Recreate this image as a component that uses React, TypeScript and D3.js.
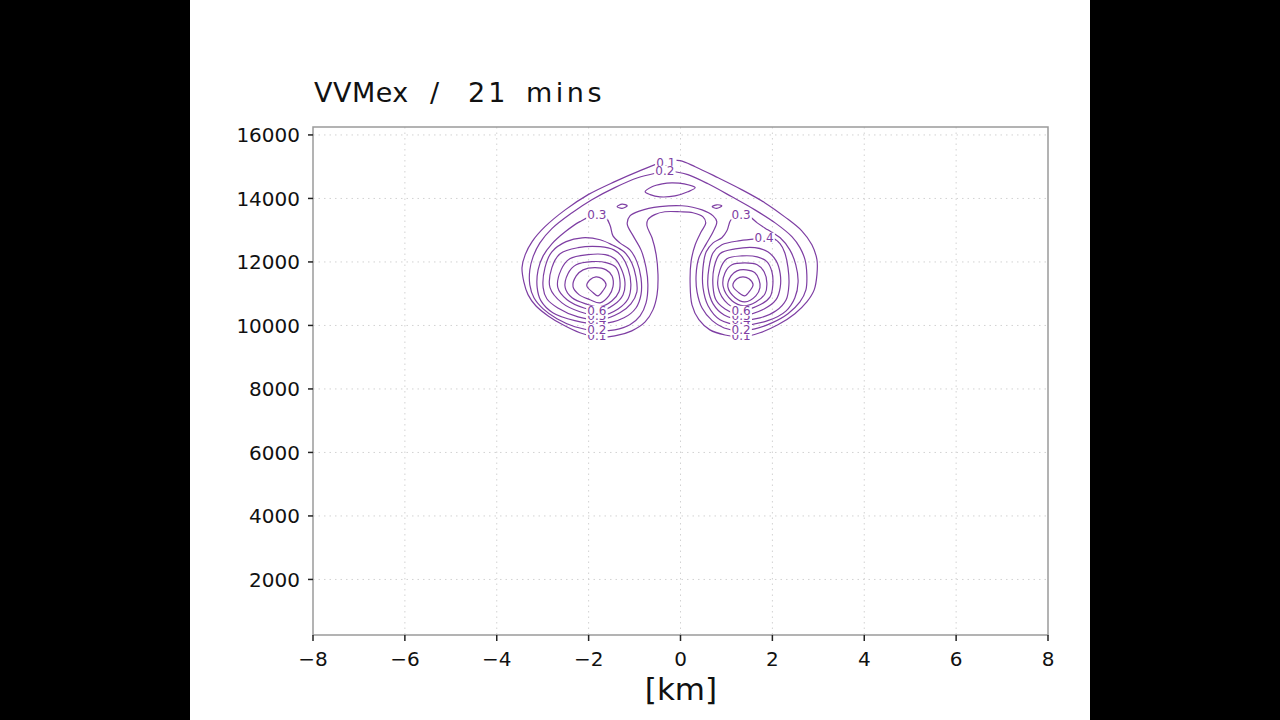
import React from "react";
import * as d3 from "d3";

type P = [number, number];

// ---------- text ----------
const titleWords = ["VVMex", "/", "21", "mins"];
const xAxisTitle = "[km]";

// ---------- axes ----------
const xDomain: P = [-8, 8];
const yDomain: P = [250, 16250];
const xTicks = [-8, -6, -4, -2, 0, 2, 4, 6, 8];
const yTicks = [2000, 4000, 6000, 8000, 10000, 12000, 14000, 16000];

// ---------- contour lines: [km, m] ----------
const contour01: P[] = [
  [-0.29, 15190], [-0.01, 15190], [0.32, 15000], [0.82, 14650], [1.34, 14270], [1.84, 13860],
  [2.27, 13420], [2.64, 12980], [2.86, 12540], [2.97, 12070], [2.97, 11600], [2.91, 11120],
  [2.75, 10740], [2.49, 10370], [2.12, 10020], [1.73, 9770], [1.34, 9640], [0.97, 9700],
  [0.64, 9860], [0.40, 10180], [0.25, 10650], [0.21, 11280], [0.23, 12010], [0.32, 12540],
  [0.45, 12950], [0.55, 13230], [0.49, 13420], [0.27, 13550], [-0.01, 13580], [-0.34, 13580],
  [-0.56, 13490], [-0.71, 13330], [-0.73, 13140], [-0.62, 12760], [-0.53, 12230], [-0.49, 11600],
  [-0.51, 10970], [-0.60, 10490], [-0.77, 10110], [-1.06, 9830], [-1.43, 9670], [-1.82, 9640],
  [-2.19, 9770], [-2.56, 10020], [-2.88, 10300], [-3.15, 10620], [-3.32, 10970], [-3.41, 11370],
  [-3.45, 11820], [-3.38, 12230], [-3.23, 12640], [-2.95, 13110], [-2.51, 13640], [-2.01, 14120],
  [-1.43, 14530], [-0.84, 14900], [-0.45, 15120],
];

const contour02: P[] = [
  [-0.29, 14870], [-0.12, 14840], [0.16, 14750], [0.60, 14460], [1.12, 14050], [1.62, 13640],
  [2.06, 13230], [2.43, 12790], [2.60, 12450], [2.71, 12070], [2.75, 11600], [2.73, 11120],
  [2.60, 10740], [2.34, 10370], [1.99, 10080], [1.62, 9890], [1.30, 9830], [0.95, 9920],
  [0.69, 10150], [0.47, 10550], [0.36, 11060], [0.34, 11600], [0.40, 12130], [0.56, 12570],
  [0.71, 12950], [0.79, 13270], [0.71, 13450], [0.47, 13640], [0.03, 13770], [-0.45, 13740],
  [-0.88, 13610], [-1.10, 13450], [-1.16, 13200], [-1.03, 12820], [-0.86, 12380], [-0.75, 11820],
  [-0.71, 11280], [-0.75, 10710], [-0.88, 10300], [-1.10, 10020], [-1.43, 9860], [-1.82, 9830],
  [-2.30, 9960], [-2.69, 10210], [-2.99, 10520], [-3.19, 10870], [-3.28, 11280], [-3.28, 11750],
  [-3.21, 12160], [-3.06, 12600], [-2.80, 13050], [-2.36, 13550], [-1.93, 13960], [-1.43, 14340],
  [-0.93, 14650], [-0.49, 14810],
];

const topIsland03: P[] = [
  [-0.77, 14210], [-0.62, 14370], [-0.40, 14460], [-0.19, 14490], [0.08, 14460], [0.32, 14340],
  [0.16, 14210], [-0.12, 14080], [-0.45, 14050], [-0.66, 14120],
];
const leftIsland03: P[] = [[-1.38, 13740], [-1.27, 13820], [-1.16, 13770], [-1.27, 13690]];
const rightIsland03: P[] = [[0.69, 13740], [0.79, 13800], [0.90, 13770], [0.79, 13690]];

const leftLobe03: P[] = [
  [-3.12, 11190], [-3.10, 11750], [-2.99, 12190], [-2.80, 12570], [-2.51, 12950], [-2.19, 13270],
  [-1.82, 13490], [-1.62, 13390], [-1.53, 13140], [-1.47, 12820], [-1.32, 12600], [-1.10, 12380],
  [-0.95, 12010], [-0.86, 11500], [-0.86, 10970], [-0.97, 10550], [-1.23, 10240], [-1.75, 10050],
  [-2.30, 10150], [-2.78, 10400], [-3.04, 10780],
];
const leftLobe04: P[] = [
  [-2.99, 11190], [-2.95, 11820], [-2.80, 12320], [-2.49, 12640], [-2.14, 12760], [-1.75, 12700],
  [-1.49, 12540], [-1.23, 12320], [-1.06, 11970], [-0.97, 11530], [-0.95, 11060], [-1.08, 10680],
  [-1.32, 10400], [-1.75, 10180], [-2.23, 10270], [-2.67, 10550], [-2.91, 10840],
];
const leftLobe05: P[] = [
  [-2.84, 11190], [-2.80, 11820], [-2.62, 12260], [-2.23, 12450], [-1.75, 12480], [-1.45, 12380],
  [-1.27, 12160], [-1.14, 11780], [-1.08, 11280], [-1.14, 10840], [-1.36, 10520], [-1.75, 10300],
  [-2.19, 10430], [-2.58, 10710],
];
const leftLobe06: P[] = [
  [-2.67, 11190], [-2.60, 11750], [-2.41, 12100], [-2.01, 12230], [-1.64, 12230], [-1.43, 12100],
  [-1.30, 11820], [-1.21, 11370], [-1.25, 10970], [-1.45, 10650], [-1.75, 10460], [-2.10, 10550],
  [-2.47, 10810],
];
const leftLobe07: P[] = [
  [-2.51, 11190], [-2.45, 11630], [-2.27, 11910], [-1.93, 12010], [-1.60, 11970], [-1.40, 11820],
  [-1.32, 11440], [-1.34, 11060], [-1.49, 10780], [-1.75, 10590], [-2.06, 10680], [-2.36, 10870],
];
const leftLobe08: P[] = [
  [-2.34, 11220], [-2.27, 11560], [-2.12, 11750], [-1.86, 11820], [-1.62, 11750], [-1.49, 11560],
  [-1.47, 11220], [-1.56, 10930], [-1.75, 10710], [-1.97, 10810], [-2.21, 10970],
];
const leftLobe09: P[] = [
  [-2.04, 11250], [-1.97, 11440], [-1.84, 11530], [-1.71, 11470], [-1.62, 11280], [-1.69, 11090],
  [-1.80, 10930], [-1.90, 11030],
];

const rightLobe03: P[] = [
  [0.49, 11190], [0.49, 11820], [0.56, 12320], [0.71, 12600], [0.90, 12760], [1.01, 12980],
  [1.10, 13330], [1.30, 13490], [1.51, 13420], [1.67, 13230], [1.90, 13010], [2.17, 12760],
  [2.38, 12380], [2.51, 11910], [2.56, 11370], [2.49, 10870], [2.30, 10460], [1.90, 10150],
  [1.34, 10020], [0.86, 10180], [0.60, 10620],
];
const rightLobe04: P[] = [
  [0.60, 11190], [0.62, 11820], [0.71, 12290], [0.90, 12540], [1.30, 12670], [1.67, 12730],
  [1.99, 12760], [2.17, 12570], [2.27, 12290], [2.34, 11820], [2.36, 11280], [2.30, 10810],
  [2.08, 10460], [1.73, 10240], [1.34, 10180], [0.95, 10330], [0.71, 10680],
];
const rightLobe05: P[] = [
  [0.71, 11190], [0.73, 11820], [0.86, 12260], [1.19, 12410], [1.62, 12450], [1.90, 12320],
  [2.08, 12040], [2.17, 11630], [2.17, 11190], [2.08, 10810], [1.82, 10520], [1.34, 10330],
  [0.97, 10520], [0.77, 10810],
];
const rightLobe06: P[] = [
  [0.82, 11190], [0.86, 11750], [1.01, 12100], [1.34, 12190], [1.67, 12160], [1.88, 12010],
  [1.99, 11690], [2.01, 11280], [1.95, 10900], [1.73, 10650], [1.34, 10490], [1.03, 10680],
];
const rightLobe07: P[] = [
  [0.93, 11220], [0.97, 11660], [1.12, 11910], [1.40, 11970], [1.67, 11910], [1.82, 11690],
  [1.88, 11340], [1.84, 11000], [1.64, 10740], [1.38, 10620], [1.12, 10780],
];
const rightLobe08: P[] = [
  [1.03, 11220], [1.10, 11560], [1.23, 11720], [1.43, 11750], [1.62, 11660], [1.71, 11440],
  [1.73, 11190], [1.64, 10930], [1.40, 10740], [1.19, 10870],
];
const rightLobe09: P[] = [
  [1.14, 11250], [1.23, 11470], [1.36, 11530], [1.49, 11470], [1.58, 11280], [1.51, 11090],
  [1.40, 10930], [1.27, 11030],
];

// contour labels: [text, km, m] (drawn in this order)
const contourLabels: [string, number, number][] = [
  ["0.1", -0.32, 15120], ["0.2", -0.34, 14870],
  ["0.3", -1.82, 13490], ["0.3", 1.32, 13490], ["0.4", 1.82, 12760],
  ["0.1", -1.82, 9670], ["0.3", -1.82, 10050], ["0.4", -1.82, 10180], ["0.5", -1.82, 10300],
  ["0.6", -1.82, 10460], ["0.2", -1.82, 9860],
  ["0.1", 1.32, 9670], ["0.3", 1.32, 10050], ["0.4", 1.32, 10180], ["0.5", 1.32, 10300],
  ["0.6", 1.32, 10460], ["0.2", 1.32, 9860],
];

const allContours: P[][] = [
  contour01, contour02, topIsland03, leftIsland03, rightIsland03,
  leftLobe03, leftLobe04, leftLobe05, leftLobe06, leftLobe07, leftLobe08, leftLobe09,
  rightLobe03, rightLobe04, rightLobe05, rightLobe06, rightLobe07, rightLobe08, rightLobe09,
];

const FONT = "'DejaVu Sans', 'Liberation Sans', sans-serif";
const PURPLE = "#7e3ea3";

export default function App() {
  const left = 313, right = 1048, top = 127, bottom = 635;
  const x = d3.scaleLinear().domain(xDomain).range([left, right]);
  const y = d3.scaleLinear().domain(yDomain).range([bottom, top]);
  const line = d3
    .line<P>()
    .x((d) => x(d[0]))
    .y((d) => y(d[1]))
    .curve(d3.curveCatmullRomClosed.alpha(0.5));
  const fmt = d3.format("d");
  const labelSize = 12;
  const titleX = [314, 430, 468, 526];
  const titleSpacing = [0.5, 0, 3, 3.5];

  return (
    <div style={{ position: "fixed", left: 0, top: 0, width: 1280, height: 720, background: "#000" }}>
      <svg width={1280} height={720} style={{ display: "block" }}>
        <rect x={0} y={0} width={1280} height={720} fill="#000" />
        <rect x={190} y={0} width={900} height={720} fill="#fff" />

        {/* grid */}
        <g stroke="#d2d2d2" strokeWidth={1} strokeDasharray="1.5 4">
          {xTicks.slice(1, -1).map((t) => (
            <line key={"gx" + t} x1={x(t)} x2={x(t)} y1={top} y2={bottom} />
          ))}
          {yTicks.map((t) => (
            <line key={"gy" + t} x1={left} x2={right} y1={y(t)} y2={y(t)} />
          ))}
        </g>

        {/* contours */}
        <g fill="none" stroke={PURPLE} strokeWidth={1.2} strokeLinejoin="round">
          {allContours.map((c, i) => (
            <path key={"c" + i} d={line(c) || ""} />
          ))}
        </g>

        {/* contour labels */}
        <g fontFamily={FONT} fontSize={labelSize} fill={PURPLE}>
          {contourLabels.map(([t, kx, my], i) => {
            const cx = x(kx), cy = y(my);
            const w = t.length * labelSize * 0.54;
            return (
              <g key={"l" + i}>
                <rect x={cx - w / 2 - 1} y={cy - 5} width={w + 2} height={10} fill="#fff" />
                <text x={cx} y={cy + 4.3} textAnchor="middle">{t}</text>
              </g>
            );
          })}
        </g>

        {/* frame */}
        <rect x={left} y={top} width={right - left} height={bottom - top} fill="none" stroke="#9a9a9a" strokeWidth={1.5} />

        {/* ticks */}
        <g stroke="#222" strokeWidth={1.5}>
          {xTicks.map((t) => (
            <line key={"tx" + t} x1={x(t)} x2={x(t)} y1={bottom} y2={bottom + 6} />
          ))}
          {yTicks.map((t) => (
            <line key={"ty" + t} x1={left - 5} x2={left} y1={y(t)} y2={y(t)} />
          ))}
        </g>

        {/* tick labels */}
        <g fontFamily={FONT} fontSize={20} fill="#111">
          {xTicks.map((t) => (
            <text key={"lx" + t} x={x(t)} y={666} textAnchor="middle">{fmt(t)}</text>
          ))}
          {yTicks.map((t) => (
            <text key={"ly" + t} x={300} y={y(t) + 7.5} textAnchor="end">{fmt(t)}</text>
          ))}
        </g>

        {/* titles */}
        <text y={102} fontFamily={FONT} fontSize={27} fill="#111">
          {titleWords.map((w, i) => (
            <tspan key={"tw" + i} x={titleX[i]} letterSpacing={titleSpacing[i]}>
              {w + (i < titleWords.length - 1 ? " " : "")}
            </tspan>
          ))}
        </text>
        <text x={681} y={700} fontFamily={FONT} fontSize={31} fill="#111" textAnchor="middle">
          {xAxisTitle}
        </text>
      </svg>
    </div>
  );
}
